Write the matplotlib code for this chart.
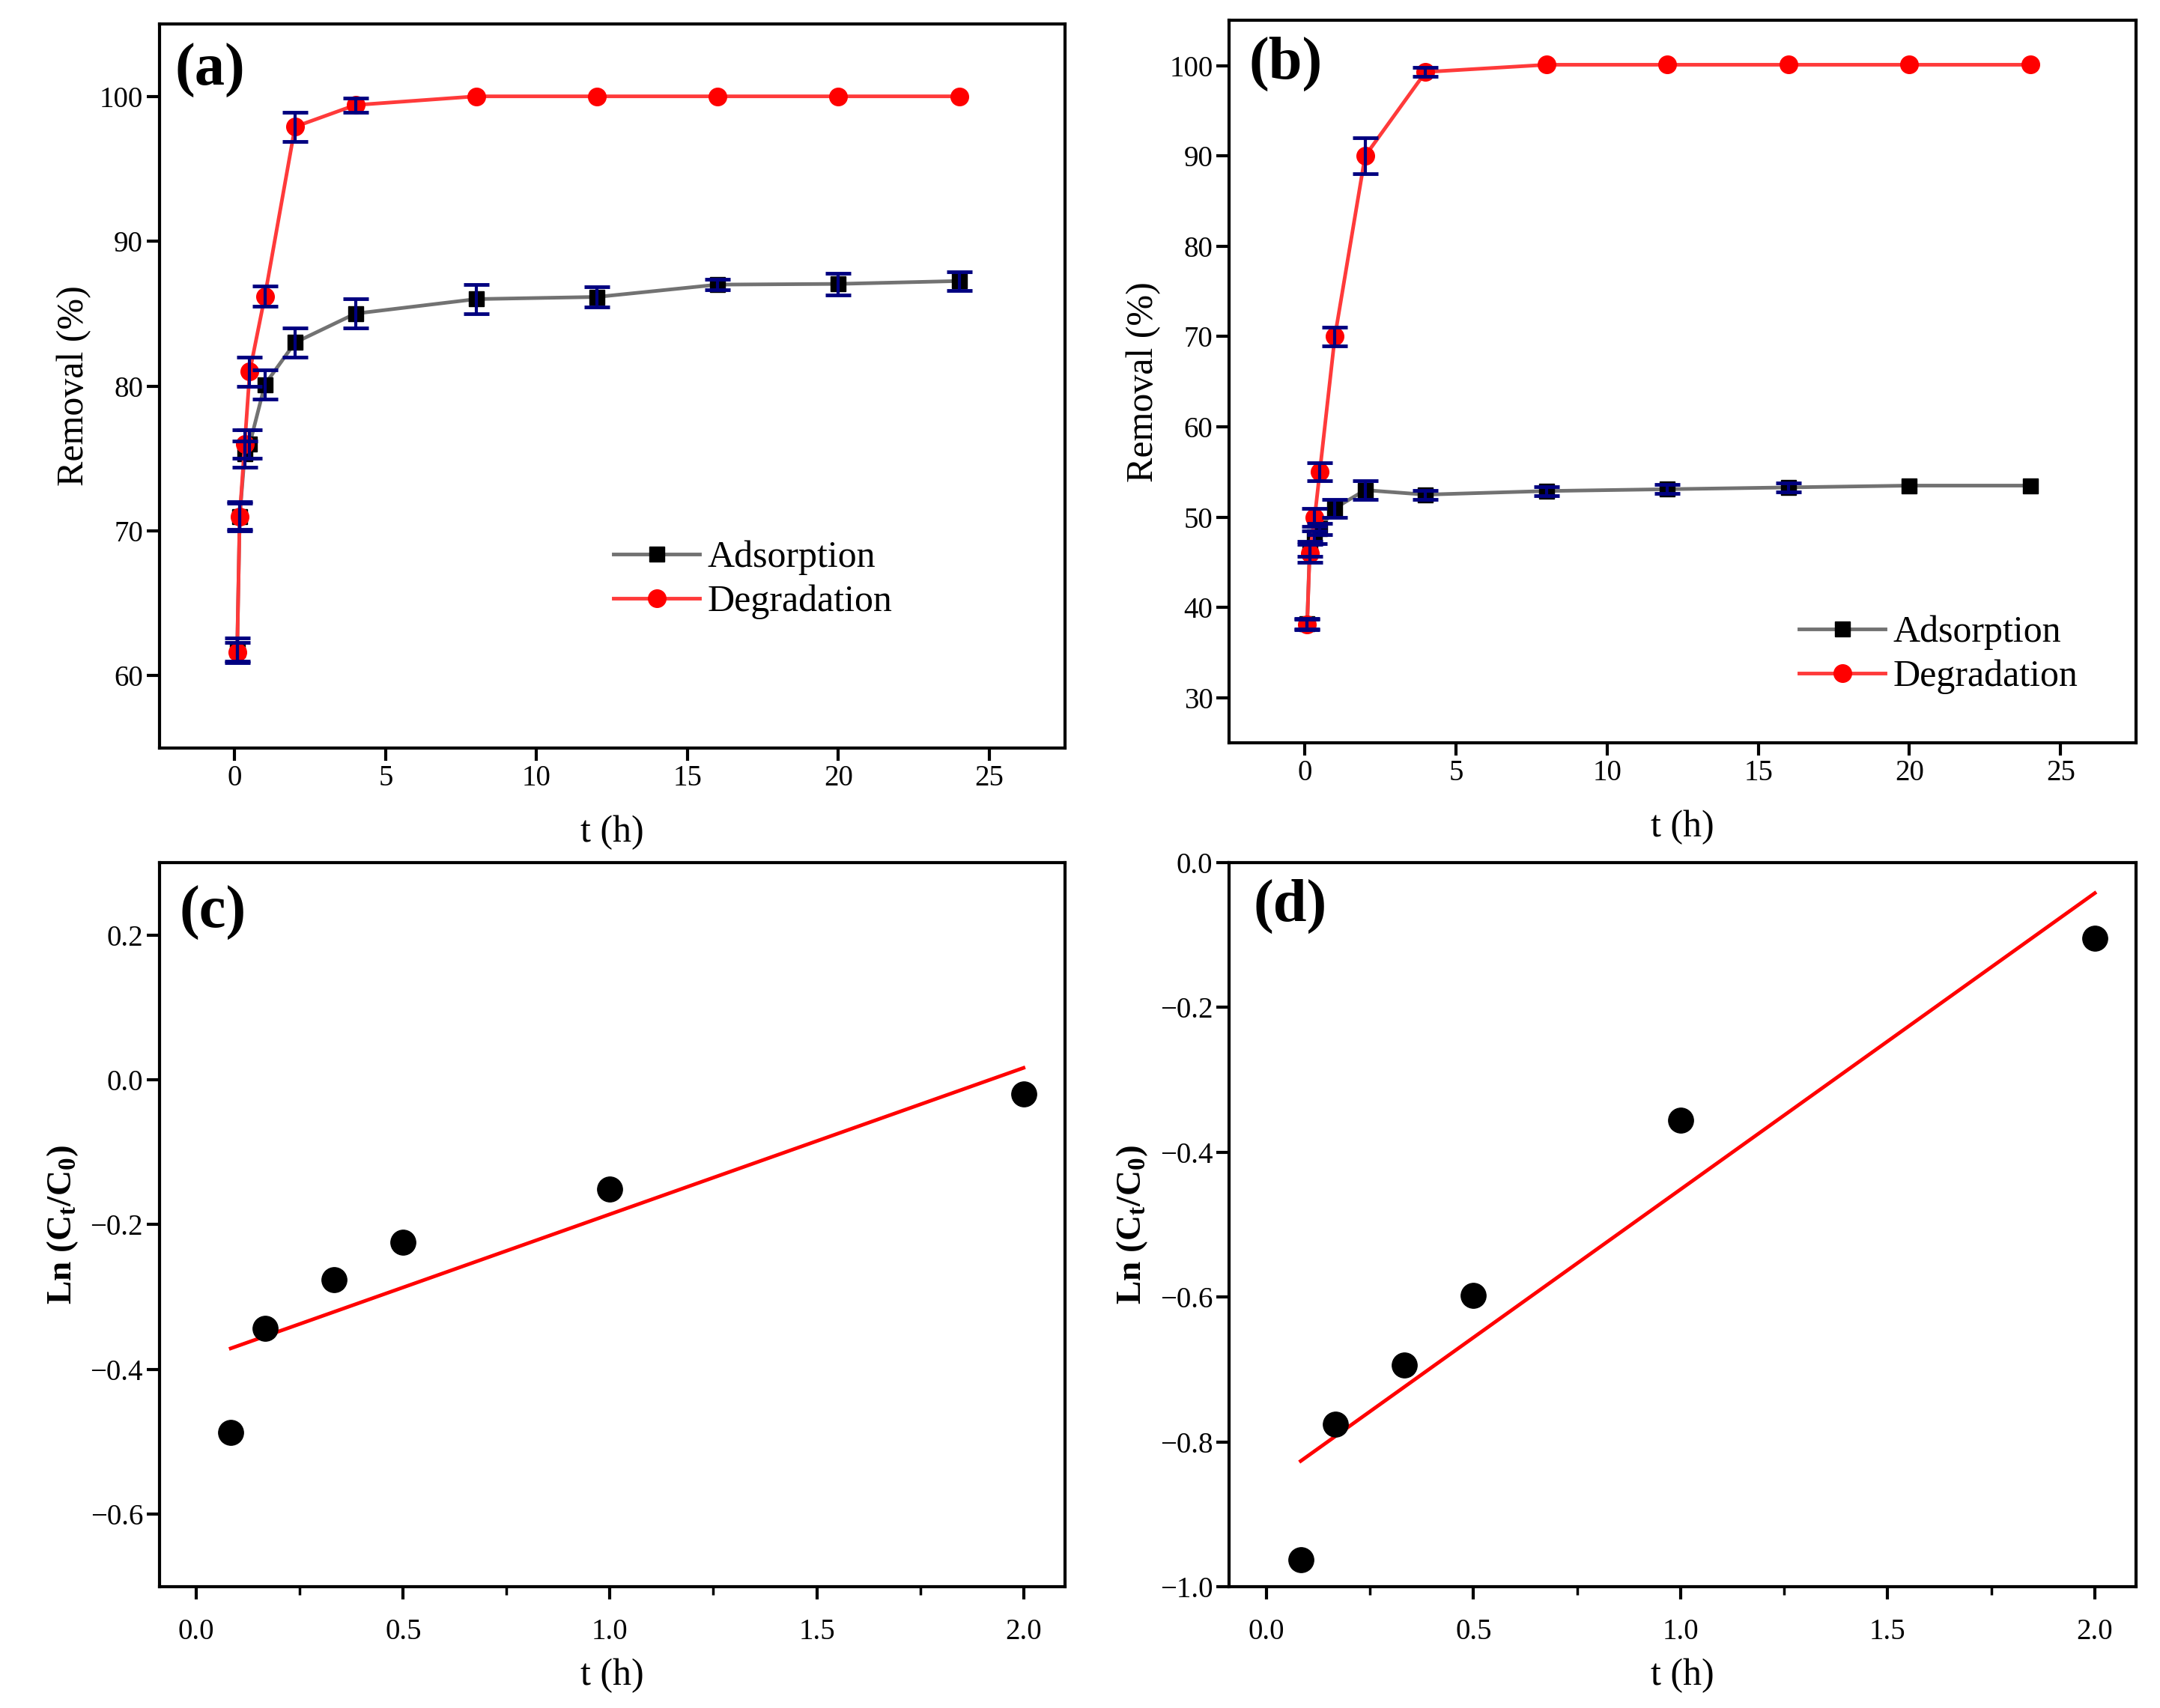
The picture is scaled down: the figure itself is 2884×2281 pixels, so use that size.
import numpy as np
import matplotlib
matplotlib.use('Agg')
import matplotlib.pyplot as plt

plt.rcParams['font.family'] = ['Liberation Serif', 'DejaVu Serif']
plt.rcParams['mathtext.default'] = 'regular'

# time points (h)
t = [0.083, 0.167, 0.333, 0.5, 1, 2, 4, 8, 12, 16, 20, 24]

# panel (a)
ads_a = [61.8, 71.0, 75.3, 76.0, 80.1, 83.0, 85.0, 86.0, 86.15, 87.0, 87.05, 87.25]
ads_a_err = [0.8, 0.9, 0.9, 1.0, 1.0, 1.0, 1.0, 1.0, 0.7, 0.35, 0.75, 0.65]
deg_a = [61.6, 71.0, 76.0, 81.0, 86.2, 97.9, 99.4, 100.0, 100.0, 100.0, 100.0, 100.0]
deg_a_err = [0.7, 1.0, 1.0, 1.0, 0.7, 1.0, 0.5, 0, 0, 0, 0, 0]

# panel (b)
ads_b = [38.2, 46.5, 47.8, 48.7, 51.0, 53.0, 52.5, 52.9, 53.1, 53.3, 53.5, 53.5]
ads_b_err = [0.6, 0.8, 0.7, 0.6, 1.0, 1.0, 0.5, 0.5, 0.5, 0.5, 0, 0]
deg_b = [38.1, 46.0, 50.0, 55.0, 70.0, 90.0, 99.3, 100.1, 100.1, 100.1, 100.1, 100.1]
deg_b_err = [0.6, 1.0, 1.0, 1.0, 1.0, 2.0, 0.5, 0, 0, 0, 0, 0]

# panels (c), (d): ln(Ct/C0)
t_k = [0.083, 0.167, 0.333, 0.5, 1.0, 2.0]
ln_c = [-0.487, -0.343, -0.276, -0.224, -0.151, -0.020]
ln_d = [-0.963, -0.776, -0.694, -0.598, -0.356, -0.105]

NAVY = '#000080'
GRAY = '#727272'
RED_LINE = '#ff3a3a'

fig = plt.figure(figsize=(28.84, 22.81), dpi=100)
ax_a = fig.add_axes([0.0737, 0.562, 0.4193, 0.424])
ax_b = fig.add_axes([0.569, 0.565, 0.420, 0.423])
ax_c = fig.add_axes([0.0737, 0.071, 0.4193, 0.424])
ax_d = fig.add_axes([0.569, 0.071, 0.420, 0.424])


def style(ax):
    for s in ax.spines.values():
        s.set_linewidth(3)
    ax.tick_params(axis='both', which='major', direction='out', length=12, width=3, labelsize=28)
    ax.tick_params(axis='both', which='minor', direction='out', length=8, width=2.5)
    ax.tick_params(top=False, right=False)


def removal(ax, ads, ads_err, deg, deg_err, ylim, yticks, leg_pos, tag, tag_pos):
    ax.plot(t, ads, '-s', color=GRAY, mfc='black', mec='black', ms=15, lw=3.5, label='Adsorption', zorder=2)
    ax.plot(t, deg, '-o', color=RED_LINE, mfc='red', mec='red', ms=17, lw=3.5, label='Degradation', zorder=3)
    for y, e in ((ads, ads_err), (deg, deg_err)):
        tt = np.array(t)
        y = np.array(y)
        e = np.array(e)
        m = e > 0
        ax.errorbar(tt[m], y[m], yerr=e[m], fmt='none', ecolor=NAVY, elinewidth=3,
                    capsize=12, capthick=3.5, zorder=4)
    ax.set_xlim(-2.5, 27.5)
    ax.set_ylim(*ylim)
    ax.set_xticks([0, 5, 10, 15, 20, 25])
    ax.set_yticks(yticks)
    ax.set_xlabel('t (h)', fontsize=36, labelpad=22)
    ax.set_ylabel('Removal (%)', fontsize=36, labelpad=8)
    ax.legend(loc='center left', bbox_to_anchor=leg_pos, frameon=False, fontsize=36,
              borderpad=0, handlelength=2.3, handletextpad=0.2, labelspacing=0.25)
    ax.text(tag_pos[0], tag_pos[1], tag, transform=ax.transAxes, fontsize=58,
            fontweight='bold', va='center', ha='left')
    style(ax)


removal(ax_a, ads_a, ads_a_err, deg_a, deg_a_err, (55, 105), [60, 70, 80, 90, 100],
        (0.481, 0.232), '(a)', (0.017, 0.935))
removal(ax_b, ads_b, ads_b_err, deg_b, deg_b_err, (25, 105), [30, 40, 50, 60, 70, 80, 90, 100],
        (0.608, 0.122), '(b)', (0.022, 0.94))


def kinetics(ax, y, ylim, yticks, tag, tag_pos):
    k, b = np.polyfit(t_k, y, 1)
    xs = np.array([t_k[0], t_k[-1]])
    ax.plot(xs, k * xs + b, color='red', lw=3.5, zorder=2)
    ax.plot(t_k, y, 'o', color='black', ms=24, zorder=3)
    ax.set_xlim(-0.09, 2.1)
    ax.set_ylim(*ylim)
    ax.set_xticks([0.0, 0.5, 1.0, 1.5, 2.0])
    ax.set_xticks([0.25, 0.75, 1.25, 1.75], minor=True)
    ax.set_yticks(yticks)
    ax.set_xticklabels(['%.1f' % v for v in [0.0, 0.5, 1.0, 1.5, 2.0]])
    ax.set_yticklabels(['%.1f' % v if v >= 0 else '\u2212%.1f' % abs(v) for v in yticks])
    ax.set_xlabel('t (h)', fontsize=36, labelpad=12)
    ax.set_ylabel('Ln (C$_{t}$/C$_{0}$)', fontsize=34, fontweight='bold', labelpad=10)
    ax.text(tag_pos[0], tag_pos[1], tag, transform=ax.transAxes, fontsize=58,
            fontweight='bold', va='center', ha='left')
    style(ax)
    ax.tick_params(axis='x', which='major', pad=18)


kinetics(ax_c, ln_c, (-0.7, 0.3), [-0.6, -0.4, -0.2, 0.0, 0.2], '(c)', (0.022, 0.93))
kinetics(ax_d, ln_d, (-1.0, 0.0), [-1.0, -0.8, -0.6, -0.4, -0.2, 0.0], '(d)', (0.027, 0.94))

fig.savefig('out.png', dpi=100)
